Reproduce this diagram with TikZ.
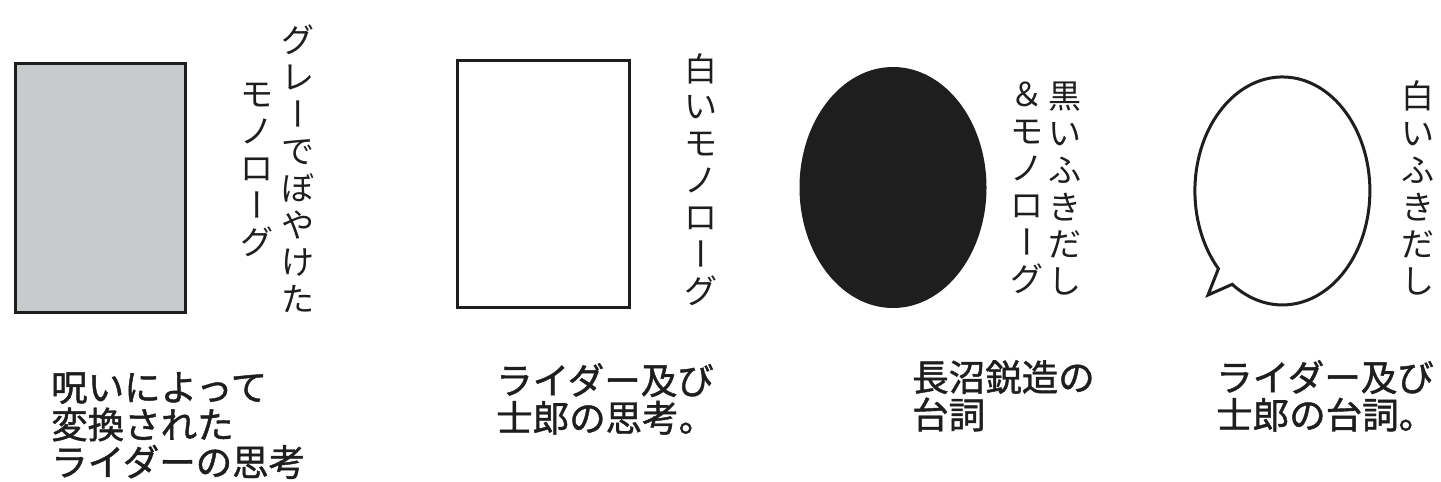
\documentclass[tikz,border=0pt]{standalone}
\usepackage{fontspec}
\usepackage{graphicx}
\newfontfamily\jp{Noto Sans CJK JP}
\newfontfamily\jpc{Noto Sans CJK JP}[FakeBold=1.2]
\usetikzlibrary{shapes.geometric}
\definecolor{panelgray}{RGB}{200,203,203}
\definecolor{ink}{RGB}{30,30,30}
\newcommand\cho{\raisebox{0.38em}{\rotatebox[origin=c]{-90}{\raisebox{-0.38em}[0pt][0pt]{ー}}}}
\begin{document}
\begin{tikzpicture}[x=1pt,y=-1pt,
  vlab/.style={font=\jp\fontsize{33}{37}\selectfont, align=center, inner sep=0pt, text=ink, anchor=north},
  caption/.style={font=\jpc\fontsize{36.5}{37.5}\selectfont, align=left, inner sep=0pt, anchor=north west, text=ink},
  panel/.style={draw=ink, line width=3pt, inner sep=0pt}]
\useasboundingbox[fill=white] (0,0) rectangle (1441,482);

% panel 1
\node[panel, rectangle, fill=panelgray, minimum width=170pt, minimum height=249pt] (r1) at (100,187.5) {};
\node[vlab] (l1a) at (298,25) {グ\\レ\\\cho\\で\\ぼ\\や\\け\\た};
\node[vlab] (l1b) at (257,83) {モ\\ノ\\ロ\\\cho\\グ};
\node[caption] (c1) at (51,372) {呪いによって\\変換された\\ライダーの思考};

% panel 2
\node[panel, rectangle, fill=white, minimum width=172pt, minimum height=247pt] (r2) at (543,183.5) {};
\node[vlab] (l2) at (701,53) {白\\い\\モ\\ノ\\ロ\\\cho\\グ};
\node[caption] (c2) at (496,363) {ライダー及び\\士郎の思考。};

% panel 3
\node[ellipse, fill=ink, inner sep=0pt, minimum width=187pt, minimum height=241pt] (e3) at (893,187.5) {};
\node[vlab] (l3a) at (1065,82) {黒\\い\\ふ\\き\\だ\\し};
\node[vlab] (l3b) at (1027,82) {＆\\モ\\ノ\\ロ\\\cho\\グ};
\node[caption] (c3) at (912,360) {長沼鋭造の\\台詞};

% panel 4
\coordinate (tip) at (1208,295);
\draw[draw=ink, line width=3pt, fill=white, line join=miter] (tip) -- (1218.4,268.7)
  arc[start angle=137, end angle=485, x radius=87.5, y radius=114] -- cycle;
\node[vlab] (l4) at (1418,80) {白\\い\\ふ\\き\\だ\\し};
\node[caption] (c4) at (1216,360) {ライダー及び\\士郎の台詞。};
\end{tikzpicture}
\end{document}
